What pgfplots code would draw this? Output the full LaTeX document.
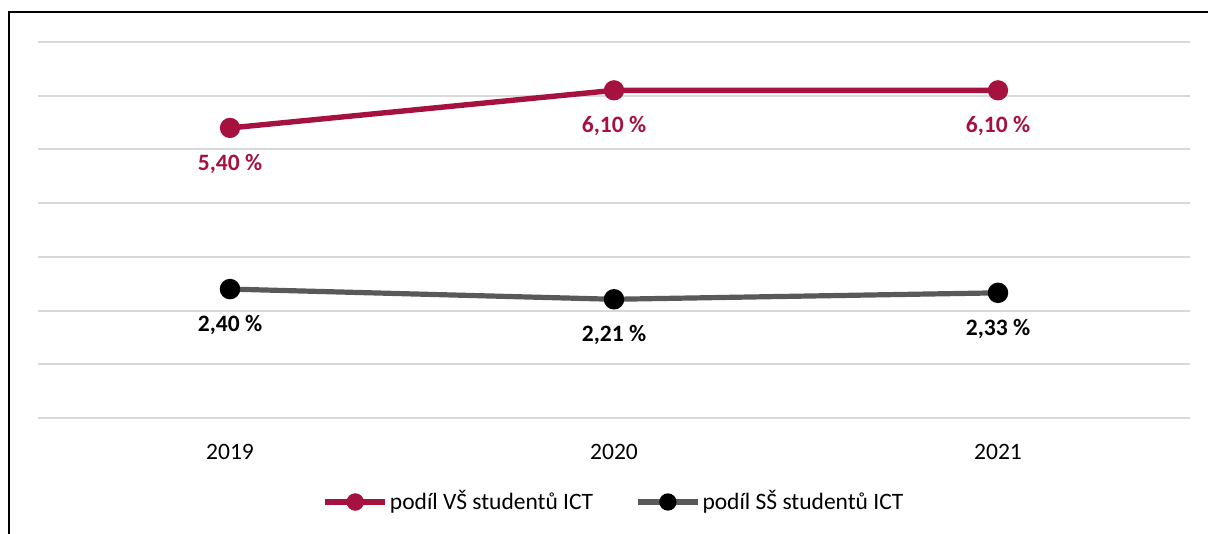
\documentclass[border=0pt]{standalone}
\usepackage{fontspec}
\setmainfont{Carlito}
\usepackage{pgfplots}
\pgfplotsset{compat=1.18}

\definecolor{vsred}{RGB}{165,18,63}
\definecolor{ssgray}{RGB}{89,89,89}
\definecolor{gridgray}{RGB}{217,217,217}

\newcommand{\chartfont}{\fontsize{11.75}{14}\selectfont}

\begin{document}
\chartfont
\begin{tikzpicture}
\useasboundingbox (-19pt,-58pt) rectangle (585pt,209pt);
% outer frame (left and top edges only)
\draw[black, line width=0.8pt] (-14.5pt,-58pt) -- (-14.5pt,203pt) -- (585pt,203pt);

\begin{axis}[
  at={(0,0)}, anchor=south west,
  scale only axis,
  width=576pt, height=188pt,
  xmin=-0.5, xmax=2.5,
  ymin=0, ymax=7,
  axis line style={draw=none},
  xtick={0,1,2},
  xticklabels={2019,2020,2021},
  ytick={0,1,...,7},
  yticklabels={},
  major tick length=0pt,
  ymajorgrids,
  major grid style={line width=1pt, gridgray},
  tick label style={font=\chartfont, text=black},
  xticklabel style={yshift=-9pt},
  /pgf/number format/assume math mode=true,
  nodes near coords={\pgfmathprintnumber[fixed,fixed zerofill,precision=2,use comma]{\pgfplotspointmeta}~\%},
  every node near coord/.append style={font=\chartfont\bfseries, anchor=center, yshift=-18pt},
  legend style={at={(0.5,0)}, anchor=center, yshift=-42pt, draw=none, fill=none,
    font=\chartfont, nodes={inner xsep=1pt},
    /tikz/every even column/.append style={column sep=20pt}},
  legend columns=2,
  legend cell align=left,
  legend image code/.code={\draw[mark repeat=2,mark phase=2,#1,mark size=3pt] plot coordinates {(0pt,0pt) (15pt,0pt) (30pt,0pt)};},
  clip=false,
]
\addplot[vsred, line width=2.7pt, mark=*, mark size=3.7pt,
  every node near coord/.append style={text=vsred}]
  coordinates {(0,5.40) (1,6.10) (2,6.10)};
\addlegendentry{podíl VŠ studentů ICT}
\addplot[ssgray, line width=2.6pt, mark=*, mark size=3.8pt,
  mark options={fill=black, draw=black},
  every node near coord/.append style={text=black}]
  coordinates {(0,2.40) (1,2.21) (2,2.33)};
\addlegendentry{podíl SŠ studentů ICT}
\end{axis}
\end{tikzpicture}
\end{document}
